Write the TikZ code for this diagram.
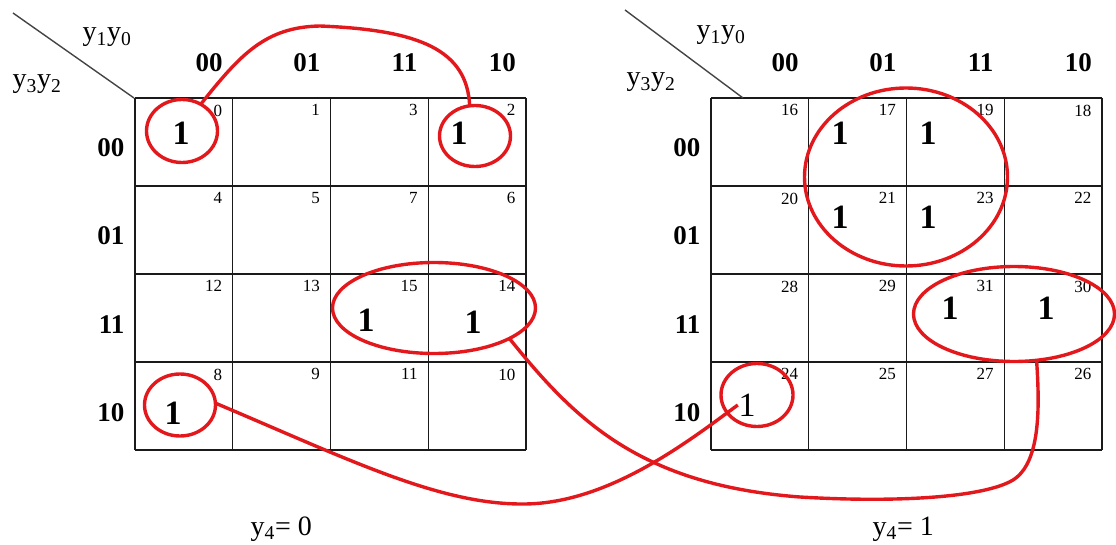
\documentclass[tikz,border=0pt]{standalone}
\usepackage{fontspec}
\setmainfont{Liberation Serif}
\usetikzlibrary{shapes.geometric}
\definecolor{gridblack}{HTML}{1A1A1A}
\definecolor{diaggray}{HTML}{444444}
\definecolor{loopred}{HTML}{E3181C}

\begin{document}
\begin{tikzpicture}[x=1pt, y=-1pt, line width=1.4pt,
  varlbl/.style={font=\fontsize{28}{32}\selectfont, inner sep=0pt, anchor=base west},
  colhdr/.style={font=\fontsize{27}{30}\selectfont\bfseries, inner sep=0pt, anchor=base},
  rowhdr/.style={font=\fontsize{27}{30}\selectfont\bfseries, inner sep=0pt, anchor=base east},
  cellno/.style={font=\fontsize{17}{20}\selectfont, inner sep=0pt, anchor=north east},
  one/.style={font=\fontsize{34}{40}\selectfont\bfseries, inner sep=0pt},
  oneplain/.style={font=\fontsize{34}{40}\selectfont, inner sep=0pt},
  loop/.style={draw=loopred, line width=3.4pt, ellipse, inner sep=0pt, outer sep=0pt},
  link/.style={loopred, line width=3.4pt}]
  \useasboundingbox (0,0) rectangle (1116,545);

  % the two maps: grid, corner line, cell numbers
  \foreach \gx/\base in {135/0, 711/16} {
    \foreach \i in {0,...,4} {
      \draw[gridblack] (\gx+\i*97.75, 98) -- (\gx+\i*97.75, 450);
      \draw[gridblack] (\gx, 98+\i*88) -- (\gx+391, 98+\i*88);
    }
    \foreach \r/\rv in {0/0, 1/1, 2/3, 3/2} {
      \foreach \c/\cv in {0/0, 1/1, 2/3, 3/2} {
        \pgfmathtruncatemacro\cellnum{\base+4*\rv+\cv}
        \node[cellno] (n\cellnum) at (\gx+\c*97.75+87.75, 98+\r*88+6) {\cellnum};
      }
    }
  }
  \draw[diaggray] (13,13) -- (134,98);
  \draw[diaggray] (625,10) -- (743,98);

  % variable labels
  \node[varlbl] (vl1) at (82,41) {y\textsubscript{1}y\textsubscript{0}};
  \node[varlbl] (vl2) at (12,88) {y\textsubscript{3}y\textsubscript{2}};
  \node[varlbl] (vr1) at (696,39) {y\textsubscript{1}y\textsubscript{0}};
  \node[varlbl] (vr2) at (626,86) {y\textsubscript{3}y\textsubscript{2}};
  \node[varlbl] (ylo) at (250,535) {y\textsubscript{4}= 0};
  \node[varlbl] (yhi) at (872,535) {y\textsubscript{4}= 1};

  % column and row headers
  \foreach \gx/\side in {135/l, 711/r} {
    \foreach \k/\code in {0/00, 1/01, 2/11, 3/10} {
      \node[colhdr] (ch\side\k) at (\gx+\k*97.75+74, 72) {\code};
      \node[rowhdr] (rh\side\k) at (\gx-10, 98+\k*88+59) {\code};
    }
  }

  % ones
  \node[one] (o0) at (181,133) {1};
  \node[one] (o2) at (459,133) {1};
  \node[one] (o15) at (366,320) {1};
  \node[one] (o14) at (473,322) {1};
  \node[one] (o8) at (173,413) {1};
  \node[one] (o17) at (840,133) {1};
  \node[one] (o19) at (928,133) {1};
  \node[one] (o21) at (840,217) {1};
  \node[one] (o23) at (928,217) {1};
  \node[one] (o31) at (950,308) {1};
  \node[one] (o30) at (1046,308) {1};
  \node[oneplain] (o24) at (747,405) {1};

  % groups
  \node[loop, minimum width=71, minimum height=63] (c0) at (182,131) {};
  \node[loop, minimum width=71, minimum height=61] (c2) at (475,136) {};
  \node[loop, minimum width=203, minimum height=91] (c1514) at (434,308) {};
  \node[loop, minimum width=71, minimum height=62] (c8) at (180,405) {};
  \node[loop, minimum width=203, minimum height=178] (c1723) at (906,177) {};
  \node[loop, minimum width=201, minimum height=95] (c3130) at (1014,314) {};
  \node[loop, minimum width=72, minimum height=63] (c24) at (757,395) {};

  % wrap-around links
  \draw[link] (c0.55) .. controls (240,55) and (265,27) .. (320,26)
    .. controls (420,30) and (467,50) .. (c2.100);
  \draw[link] (c8.3) .. controls (350,460) and (440,505) .. (525,504)
    .. controls (610,503) and (690,440) .. (o24.west);
  \draw[link] (c1514.-22) .. controls (575,420) and (640,485) .. (800,497)
    .. controls (900,503) and (985,497) .. (1013,480)
    .. controls (1040,463) and (1040,410) .. (c3130.-64);
\end{tikzpicture}
\end{document}
